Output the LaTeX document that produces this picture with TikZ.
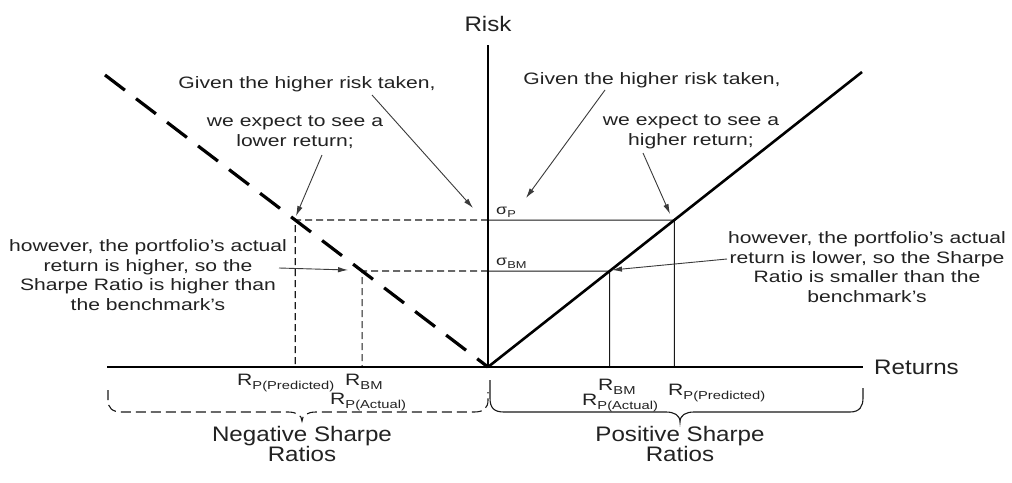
\documentclass[tikz,border=0pt]{standalone}
\usepackage{fontspec}
\setmainfont{Liberation Sans}
\newfontfamily\annf[FakeStretch=1.28]{Liberation Sans}
\newfontfamily\bigf[FakeStretch=1.15]{Liberation Sans}
\usetikzlibrary{arrows.meta,calc}
\definecolor{txt}{HTML}{222222}
\definecolor{arrc}{HTML}{3A3A3A}
\newcommand{\lsub}[1]{\raisebox{-4.5pt}{\fontsize{11.5}{12}\selectfont #1}}
\newcommand{\ssub}[1]{\raisebox{-3.5pt}{\fontsize{10}{11}\selectfont #1}}
\tikzset{
 axisline/.style={line width=2.6pt, black},
 thickdash/.style={line width=3.2pt, dash pattern=on 25pt off 14pt},
 thinline/.style={line width=1pt, black!90},
 thindash/.style={line width=1.1pt, dash pattern=on 7pt off 4pt, black!90},
 bracedash/.style={line width=1.1pt, dash pattern=on 10pt off 5pt, black!90},
 bracesolid/.style={line width=1.1pt, black!90},
 ann/.style={font=\annf\fontsize{16.5}{19.5}\selectfont, text=txt, align=center, inner sep=0pt},
 lbl/.style={font=\bigf\fontsize{21}{20}\selectfont, text=txt, align=center, inner sep=0pt},
 rlab/.style={font=\annf\fontsize{16.5}{18}\selectfont, text=txt, inner sep=0pt, anchor=base west},
 sig/.style={font=\annf\fontsize{14}{16}\selectfont, text=txt, inner sep=0pt, anchor=base west},
 pointer/.style={arrc, line width=0.9pt, -{Latex[length=10pt,width=5.5pt]}},
}
\begin{document}
\begin{tikzpicture}[x=1pt,y=-1pt]
\useasboundingbox[fill=white] (0,0) rectangle (1012,482);
% key points
\coordinate (O) at (488,367);
\coordinate (Vtop) at (488,45);
\coordinate (Hl) at (107,367);
\coordinate (Hr) at (863,367);
\coordinate (RT) at (862,72);
\coordinate (LT) at (105,75);
\coordinate (RP) at ($(O)!0.4983!(RT)$);
\coordinate (RB) at ($(O)!0.3254!(RT)$);
\coordinate (LP) at ($(O)!0.5034!(LT)$);
\coordinate (LB) at ($(O)!0.3288!(LT)$);
\coordinate (yP) at (488,220);
\coordinate (yB) at (488,271);
% guide lines
\draw[thinline] (yP) -- (RP) -- (RP |- O);
\draw[thinline] (yB) -- (RB) -- (RB |- O);
\draw[thindash] (yP) -- (LP) -- (LP |- O);
\draw[thindash] (yB) -- (LB) -- (LB |- O);
% axes and lines
\draw[axisline] (Vtop) -- (O);
\draw[axisline] (Hl) -- (Hr);
\draw[axisline] (O) -- (RT);
\draw[thickdash] (LT) -- (O);
% axis labels
\node[lbl] (risk) at (488,24) {Risk};
\node[lbl, anchor=west] (ret) at (874,367) {Returns};
\node[sig] (sp) at (496,214) {σ\ssub{P}};
\node[sig] (sbm) at (496,265) {σ\ssub{BM}};
% annotations
\node[ann] (g1) at (307,84) {Given the higher risk taken,};
\node[ann] (g2) at (652,80) {Given the higher risk taken,};
\node[ann] (e1) at (295,132) {we expect to see a\\lower return;};
\node[ann] (e2) at (691,132) {we expect to see a\\higher return;};
\node[ann] (h1) at (148,275) {however, the portfolio’s actual\\return is higher, so the\\Sharpe Ratio is higher than\\the benchmark’s};
\node[ann] (h2) at (867,267) {however, the portfolio’s actual\\return is lower, so the Sharpe\\Ratio is smaller than the\\benchmark’s};
% pointers
\coordinate (a1s) at (372,95);  \coordinate (a1e) at (473,208);
\coordinate (a2s) at (322,155); \coordinate (a2e) at (296,216);
\coordinate (a3s) at (605,90);  \coordinate (a3e) at (526,198);
\coordinate (a4s) at (643,153); \coordinate (a4e) at (670,214);
\coordinate (a5s) at (279,268); \coordinate (a5e) at (348,270);
\coordinate (a6s) at (727,259); \coordinate (a6e) at (612,270);
\draw[pointer] (a1s) -- (a1e);
\draw[pointer] (a2s) -- (a2e);
\draw[pointer] (a3s) -- (a3e);
\draw[pointer] (a4s) -- (a4e);
\draw[pointer] (a5s) -- (a5e);
\draw[pointer] (a6s) -- (a6e);
% return labels
\node[rlab] (lpp) at (237,385) {R\lsub{P(Predicted)}};
\node[rlab] (lbm) at (345,385) {R\lsub{BM}};
\node[rlab] (lpa) at (330,404) {R\lsub{P(Actual)}};
\node[rlab] (rbm) at (598,390) {R\lsub{BM}};
\node[rlab] (rpa) at (582,405) {R\lsub{P(Actual)}};
\node[rlab] (rpp) at (668,395) {R\lsub{P(Predicted)}};
% braces
\draw[bracedash] (108,390) -- (108,400) .. controls (108,408) and (112,412) .. (122,412) -- (288,412) .. controls (296,412) and (302,415) .. (302,421) .. controls (302,415) and (308,412) .. (316,412) -- (474,412) .. controls (484,412) and (488,408) .. (488,400) -- (488,392);
\draw[bracesolid] (490,380) -- (490,398) .. controls (490,408) and (494,412) .. (504,412) -- (666,412) .. controls (674,412) and (680,415) .. (680,422) .. controls (680,415) and (686,412) .. (694,412) -- (850,412) .. controls (860,412) and (863,406) .. (863,398) -- (863,388);
\node[lbl] (neg) at (302,444) {Negative Sharpe\\Ratios};
\node[lbl] (pos) at (680,444) {Positive Sharpe\\Ratios};
\end{tikzpicture}
\end{document}
